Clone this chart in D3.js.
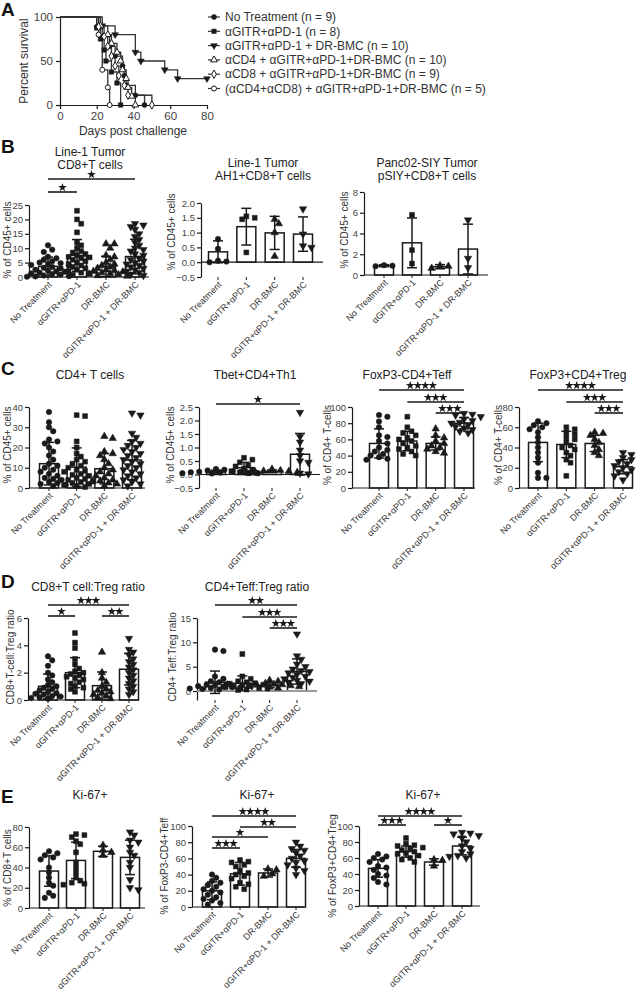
<!DOCTYPE html>
<html><head><meta charset="utf-8">
<script src="https://cdn.jsdelivr.net/npm/d3@7"></script>
<style>body{margin:0;background:#fff} svg{display:block} text{font-family:Arial,"Liberation Sans",sans-serif}</style>
</head><body><svg id="fig" width="642" height="992"></svg>
<script>
// ---------------- DATA ----------------
const groups = ["No Treatment", "αGITR+αPD-1", "DR-BMC", "αGITR+αPD-1 + DR-BMC"];

// Panel A: survival
const survLabels = ["No Treatment (n = 9)", "αGITR+αPD-1 (n = 8)", "αGITR+αPD-1 + DR-BMC (n = 10)",
  "αCD4 + αGITR+αPD-1+DR-BMC (n = 10)", "αCD8 + αGITR+αPD-1+DR-BMC (n = 9)", "(αCD4+αCD8) + αGITR+αPD-1+DR-BMC (n = 5)"];
const survDays = [
  [20, 23, 27, 30, 34, 35, 36, 41, 46],
  [20, 22, 24, 25, 28, 31, 33],
  [23, 30, 41, 44, 57, 64],
  [22, 26, 28, 31, 33, 34, 36, 37, 39, 41],
  [21, 24, 26, 28, 30, 32, 35, 37, 50],
  [21, 23, 26, 27]];
const survPct = [
  [88.9, 77.8, 66.7, 55.6, 44.4, 33.3, 22.2, 11.1, 0],
  [87.5, 75, 62.5, 50, 37.5, 25, 0],
  [90, 80, 60, 50, 40, 30],
  [90, 80, 70, 60, 50, 40, 30, 20, 10, 0],
  [88.9, 77.8, 66.7, 55.6, 44.4, 33.3, 22.2, 11.1, 0],
  [80, 40, 20, 0]];
const survEnd = [46, 33, 80, 41, 50, 27];
const survXTicks = [0, 20, 40, 60, 80];
const survYTicks = [0, 50, 100];

// Panel B
const b1Means = [3.7, 7.5, 3.7, 7.1], b1SDs = [3.2, 5.5, 3.5, 6.0];
const b1Points = [
  [11, 9.5, 8.7, 7, 6.5, 6, 5.5, 5, 4.8, 4.5, 4.2, 4, 3.5, 3.2, 3, 2.5, 2.2, 2, 1.8, 1.5, 1.2, 1, 0.8, 0.5, 0.3, 0.2, 0.1],
  [23, 20, 18.5, 15.5, 12, 11, 10, 9, 8.5, 8, 7.5, 7, 6.8, 6.5, 6, 5.5, 5, 4.5, 4, 3.5, 3, 2.5, 2, 1.5, 1.2, 0.8],
  [11.5, 11.5, 10, 7.5, 7, 6, 5, 4.5, 4, 3.5, 3, 2.5, 2.2, 2, 1.8, 1.5, 1.2, 1, 0.8, 0.5, 0.3],
  [18.5, 18, 17.5, 16.5, 15, 14, 13, 12, 11, 10, 9.5, 9, 8, 7.5, 6.5, 6, 5.5, 5, 4.5, 4, 3.5, 3, 2.5, 2, 1.5, 1, 0.5]];
const b1Sig = [[0, 3, 1], [0, 1, 1]];

const b2Means = [0.35, 1.2, 0.99, 0.95], b2SDs = [0.37, 0.62, 0.56, 0.58];
const b2Points = [[0.78, 0.45, 0.05, 0.0, 0.02], [1.55, 1.5, 1.45, 0.33], [1.45, 1.3, 1.0, 0.2], [1.8, 0.95, 0.55, 0.5]];

const b3Means = [0.9, 3.1, 0.8, 2.5], b3SDs = [0.1, 2.4, 0.2, 2.4];
const b3Points = [[0.95, 0.9, 0.85], [5.8, 2.4, 1.1], [0.9, 0.85, 0.65], [5.3, 1.6, 0.7]];

// Panel C
const c1Means = [12, 10.3, 9.5, 13.8], c1SDs = [10.5, 9.5, 7.5, 9.7];
const c1Points = [
  [37.5, 32.5, 30, 28, 24, 23, 22, 20, 18, 16, 14, 12, 11, 10, 9, 8, 7, 6, 5, 4.5, 4, 3, 2.5, 2, 1.5, 1],
  [36, 35.5, 23, 20, 17, 15.5, 14, 13, 12, 11, 10, 9, 8.5, 8, 7, 6.5, 6, 5, 4.5, 4, 3.5, 3, 2.5, 2, 1.5, 1, 0.5],
  [25.5, 24.5, 18, 17, 16, 14, 12, 10, 9, 8, 7, 6, 5, 4, 3.5, 3, 2.5, 2, 1],
  [37, 36, 27, 25, 23, 22, 21, 20, 19, 18, 17, 16, 15, 14, 13, 12, 11, 10, 9, 8, 7, 6, 5, 4, 3, 2, 1]];

const c2Means = [0.1, 0.25, 0.12, 0.75], c2SDs = [0.06, 0.2, 0.05, 0.77];
const c2Points = [
  [0.2, 0.18, 0.15, 0.12, 0.1, 0.1, 0.08, 0.07, 0.06, 0.05, 0.05, 0.04],
  [0.62, 0.55, 0.45, 0.35, 0.3, 0.22, 0.18, 0.12, 0.08, 0.05, 0.05],
  [0.2, 0.15, 0.13, 0.12, 0.1, 0.08, 0.06],
  [2.3, 1.4, 1.2, 0.9, 0.7, 0.5, 0.45, 0.05, 0.02]];
const c2Sig = [[0, 3, 1]];

const c3Means = [55, 58, 55, 80], c3SDs = [18, 12, 8, 7];
const c3Points = [
  [90, 88, 82, 75, 65, 63, 58, 55, 50, 47, 45, 42, 40, 38, 36, 35],
  [88, 75, 70, 68, 65, 62, 60, 58, 55, 52, 50, 48, 45, 42, 40],
  [73, 65, 62, 58, 55, 52, 50, 48, 45, 43],
  [92, 91, 90, 88, 85, 83, 81, 80, 78, 76, 74, 72, 70, 68]];
const c3Sig = [[0, 3, 4], [1, 3, 3], [2, 3, 3]];

const c4Means = [45, 43, 44, 21], c4SDs = [19, 13, 8, 7];
const c4Points = [
  [66, 64, 62, 60, 58, 55, 50, 45, 40, 35, 30, 25, 15, 10, 10],
  [60, 58, 55, 53, 50, 48, 45, 42, 40, 38, 35, 32, 28, 25, 12],
  [55, 54, 52, 48, 45, 42, 38, 35, 32],
  [35, 33, 30, 28, 26, 24, 22, 20, 18, 16, 14, 12, 8]];
const c4Sig = [[0, 3, 4], [1, 3, 3], [2, 3, 3]];

// Panel D
const d1Means = [1.0, 2.0, 1.05, 2.25], d1SDs = [0.9, 1.1, 1.0, 1.15];
const d1Points = [
  [3.2, 2.9, 2.5, 2.0, 1.8, 1.5, 1.3, 1.1, 1.0, 0.9, 0.8, 0.7, 0.6, 0.5, 0.45, 0.4, 0.3, 0.25, 0.2, 0.15, 0.1],
  [4.9, 4.2, 3.8, 3.0, 2.6, 2.3, 2.1, 2.0, 1.9, 1.8, 1.7, 1.6, 1.5, 1.3, 1.2, 1.0, 0.9, 0.8, 0.6],
  [3.5, 2.0, 1.6, 1.3, 1.0, 0.8, 0.7, 0.6, 0.5, 0.4, 0.3, 0.2, 0.1],
  [4.5, 3.7, 3.5, 3.3, 3.0, 2.8, 2.6, 2.4, 2.2, 2.0, 1.8, 1.6, 1.4, 1.2, 1.0, 0.8, 0.6, 0.4]];
const d1Sig = [[0, 3, 3], [0, 1, 1], [2, 3, 2]];

const d2Means = [1.8, 1.6, 1.2, 4.0], d2SDs = [2.3, 1.5, 0.5, 2.6];
const d2Points = [
  [8.5, 8.2, 3.0, 2.5, 2.0, 1.8, 1.5, 1.3, 1.2, 1.0, 0.9, 0.8, 0.7, 0.6, 0.5, 0.4, 0.3],
  [7.6, 3.0, 2.5, 2.0, 1.8, 1.6, 1.5, 1.3, 1.2, 1.0, 0.9, 0.8, 0.6, 0.5, 0.3, 0.2],
  [2.2, 2.0, 1.6, 1.4, 1.3, 1.2, 1.1, 1.0, 0.9, 0.8, 0.6],
  [11.7, 7.2, 6.5, 5.5, 5.0, 4.5, 4.2, 4.0, 3.7, 3.4, 3.0, 2.8, 2.5, 2.2, 2.0, 1.8, 1.5]];
const d2Sig = [[0, 3, 2], [1, 3, 3], [2, 3, 3]];

// Panel E
const e1Means = [36.5, 47, 56, 50], e1SDs = [15, 18, 5, 17];
const e1Points = [
  [56, 54, 52, 50, 48, 40, 35, 30, 25, 22, 15, 12, 10],
  [73, 72, 70, 66, 63, 55, 45, 40, 35, 30, 27, 25, 24, 23],
  [62, 57, 55, 52],
  [75, 72, 67, 65, 60, 55, 52, 45, 40, 28, 20, 18]];

const e2Means = [20, 41, 42, 60], e2SDs = [11, 14, 5, 11];
const e2Points = [
  [40, 36, 32, 30, 27, 25, 22, 20, 18, 15, 12, 10, 8, 5, 3],
  [58, 56, 55, 52, 50, 45, 42, 40, 38, 35, 30, 28, 25, 22],
  [47, 46, 41, 38],
  [80, 75, 72, 70, 67, 63, 60, 57, 55, 52, 48, 45, 40]];
const e2Sig = [[0, 3, 4], [1, 3, 2], [0, 2, 1], [0, 1, 3]];

const e3Means = [47, 68, 55, 75], e3SDs = [11, 7, 4, 11];
const e3Points = [
  [65, 62, 60, 58, 55, 50, 48, 45, 40, 38, 35, 30, 27],
  [85, 78, 76, 75, 73, 72, 70, 68, 66, 65, 63, 60, 58, 55],
  [58, 57, 50],
  [92, 91, 90, 88, 85, 80, 75, 72, 68, 65, 63, 62, 60]];
const e3Sig = [[0, 3, 4], [0, 1, 3], [2, 3, 1]];

// ---------------- DRAWING ----------------
const svg = d3.select("#fig");
const INK = "#1a1a1a", TXT = "#333";
const groupShapes = ["circle", "square", "triangle", "tridown"];

function marker(g, kind, x, y, size, filled) {
  const types = {circle: d3.symbolCircle, square: d3.symbolSquare, triangle: d3.symbolTriangle,
    tridown: d3.symbolTriangle, diamond: d3.symbolDiamond};
  const rot = kind === "tridown" ? 180 : 0;
  g.append("path").attr("d", d3.symbol().type(types[kind]).size(size)())
    .attr("transform", `translate(${x},${y}) rotate(${rot})`)
    .attr("fill", filled ? INK : "#fff").attr("stroke", INK).attr("stroke-width", filled ? 0.5 : 1);
}

function styleAxis(a, fs) {
  a.select(".domain").attr("stroke", INK).attr("stroke-width", 1.2);
  a.selectAll(".tick line").attr("stroke", INK).attr("stroke-width", 1.2);
  a.selectAll(".tick text").attr("fill", "#444").style("font-size", fs + "px")
    .style("font-family", 'Arial,"Liberation Sans",sans-serif');
}

function swarm(vals, y, cx, step, minD) {
  const placed = [];
  vals.slice().sort((a, b) => b - a).forEach(v => {
    const py = y(v);
    for (let k = 0; k < 60; k++) {
      const off = (k === 0 ? 0 : (k % 2 ? 1 : -1) * Math.ceil(k / 2) * step);
      const px = cx + off;
      if (placed.every(p => (p.x - px) ** 2 + (p.y - py) ** 2 >= minD * minD)) { placed.push({x: px, y: py}); break; }
    }
  });
  return placed;
}

function panelLetter(t, x, y) {
  svg.append("text").attr("x", x).attr("y", y).text(t).attr("font-size", 19).attr("font-weight", "bold").attr("fill", "#111");
}

function stars(g, cx, ly, n) {
  const sp = 7.5;
  for (let k = 0; k < n; k++) {
    const sx = cx + (k - (n - 1) / 2) * sp;
    g.append("path").attr("d", d3.symbol().type(d3.symbolStar).size(24)())
      .attr("transform", `translate(${sx},${ly - 4.5})`).attr("fill", INK);
  }
}

function barChart(cfg, means, sds, points, sig) {
  const g = svg.append("g");
  const y = d3.scaleLinear().domain(cfg.domain).range([cfg.bottom, cfg.top]);
  const x = d3.scalePoint().domain(groups).range([cfg.c0, cfg.c3]);
  const fmt = cfg.fmt || d3.format("d");
  const ax = g.append("g").attr("transform", `translate(${cfg.axis},0)`)
    .call(d3.axisLeft(y).tickValues(cfg.ticks).tickSize(4).tickPadding(2).tickSizeOuter(0).tickFormat(fmt));
  styleAxis(ax, 9.5);
  const base = cfg.domain[0] < 0 ? 0 : cfg.domain[0];
  const bw = 19;
  groups.forEach((name, i) => {
    const cx = x(name);
    g.append("rect").attr("x", cx - bw / 2).attr("width", bw)
      .attr("y", Math.min(y(means[i]), y(base))).attr("height", Math.abs(y(base) - y(means[i])))
      .attr("fill", "#fff").attr("stroke", INK).attr("stroke-width", 1.5);
  });
  g.append("line").attr("x1", cfg.axis).attr("x2", cfg.end).attr("y1", y(base)).attr("y2", y(base))
    .attr("stroke", cfg.grayZero ? "#9a9a9a" : INK).attr("stroke-width", cfg.grayZero ? 2 : 1.2);
  groups.forEach((name, i) => {
    const cx = x(name);
    const yt = y(means[i] + sds[i]), yb = y(means[i] - sds[i]);
    g.append("line").attr("x1", cx).attr("x2", cx).attr("y1", yt).attr("y2", yb).attr("stroke", INK).attr("stroke-width", 1.5);
    [yt, yb].forEach(yy => g.append("line").attr("x1", cx - 5).attr("x2", cx + 5).attr("y1", yy).attr("y2", yy)
      .attr("stroke", INK).attr("stroke-width", 1.5));
    swarm(points[i], y, cx, 4.2, 5).forEach(p => marker(g, groupShapes[i], p.x, p.y, 24, true));
    g.append("line").attr("x1", cx).attr("x2", cx).attr("y1", cfg.bottom).attr("y2", cfg.bottom + 3).attr("stroke", INK);
    g.append("text").attr("transform", `translate(${cx + 2},${cfg.bottom + 6}) rotate(-45)`)
      .attr("text-anchor", "end").attr("dy", "0.35em").attr("font-size", 9).attr("fill", TXT).text(name);
  });
  (sig || []).forEach((s, k) => {
    const ly = cfg.sigY[k];
    const xa = x(groups[s[0]]), xb = x(groups[s[1]]);
    g.append("line").attr("x1", xa).attr("x2", xb).attr("y1", ly).attr("y2", ly)
      .attr("stroke", INK).attr("stroke-width", 1.6);
    stars(g, (xa + xb) / 2, ly, s[2]);
  });
  cfg.title.forEach((t, k) => g.append("text").attr("x", cfg.tx).attr("y", cfg.ty + k * 13)
    .attr("text-anchor", "middle").attr("font-size", 12).attr("fill", "#222").text(t));
  g.append("text").attr("transform", `translate(${cfg.lx},${cfg.ly}) rotate(-90)`).attr("text-anchor", "middle")
    .attr("dy", "0.35em").attr("font-size", 10).attr("fill", TXT).text(cfg.ylabel);
}

// ---- Panel A ----
(function () {
  const g = svg.append("g");
  const x = d3.scaleLinear().domain([0, 80]).range([60, 207]);
  const y = d3.scaleLinear().domain([0, 100]).range([105, 17]);
  const ax = g.append("g").attr("transform", "translate(0,105)")
    .call(d3.axisBottom(x).tickValues(survXTicks).tickSize(4).tickSizeOuter(0));
  styleAxis(ax, 11.5);
  const ay = g.append("g").attr("transform", "translate(60,0)")
    .call(d3.axisLeft(y).tickValues(survYTicks).tickSize(4).tickSizeOuter(0));
  styleAxis(ay, 11.5);
  const kinds = [["circle", true], ["square", true], ["tridown", true], ["triangle", false], ["diamond", false], ["circle", false]];
  const line = d3.line().x(d => x(d[0])).y(d => y(d[1])).curve(d3.curveStepAfter);
  survDays.forEach((days, i) => {
    const pts = [[0, 100]].concat(days.map((d, j) => [d, survPct[i][j]]));
    const last = survPct[i][survPct[i].length - 1];
    if (last > 0) pts.push([survEnd[i], last]);
    g.append("path").attr("d", line(pts)).attr("fill", "none").attr("stroke", "#333").attr("stroke-width", 1.3);
  });
  survDays.forEach((days, i) => {
    days.forEach((d, j) => marker(g, kinds[i][0], x(d), y(survPct[i][j]), 20, kinds[i][1]));
    const last = survPct[i][survPct[i].length - 1];
    if (last > 0) marker(g, kinds[i][0], x(survEnd[i]), y(last), 20, kinds[i][1]);
  });
  g.append("text").attr("transform", "translate(24,61) rotate(-90)").attr("text-anchor", "middle").attr("dy", "0.35em")
    .attr("font-size", 12).attr("fill", TXT).text("Percent survival");
  g.append("text").attr("x", 133).attr("y", 135).attr("text-anchor", "middle").attr("font-size", 12).attr("fill", TXT).text("Days post challenge");
  survLabels.forEach((t, i) => {
    const ly = 17 + i * 14.3;
    g.append("line").attr("x1", 208).attr("x2", 220).attr("y1", ly).attr("y2", ly).attr("stroke", "#333").attr("stroke-width", 1.2);
    marker(g, kinds[i][0], 214, ly, 20, kinds[i][1]);
    g.append("text").attr("x", 225).attr("y", ly).attr("dy", "0.35em").attr("font-size", 12).attr("fill", TXT).text(t);
  });
})();
panelLetter("A", 1, 16);

// ---- Panel B ----
panelLetter("B", 1, 153);
barChart({axis: 29, end: 149, c0: 48, c3: 135, domain: [0, 25], top: 205, bottom: 277, ticks: [0, 5, 10, 15, 20, 25],
  title: ["Line-1 Tumor", "CD8+T cells"], tx: 90, ty: 156, ylabel: "% of CD45+ cells", lx: 7, ly: 240, sigY: [179, 192]},
  b1Means, b1SDs, b1Points, b1Sig);
barChart({axis: 201, end: 323, c0: 218, c3: 303, domain: [-0.5, 2.0], top: 203, bottom: 277, ticks: [-0.5, 0, 0.5, 1, 1.5, 2],
  fmt: d3.format(".1f"), title: ["Line-1 Tumor", "AH1+CD8+T cells"], tx: 263, ty: 167, ylabel: "% of CD45+ cells", lx: 171, ly: 232},
  b2Means, b2SDs, b2Points, []);
barChart({axis: 364, end: 488, c0: 384, c3: 468, domain: [0, 8], top: 192, bottom: 275, ticks: [0, 2, 4, 6, 8],
  title: ["Panc02-SIY Tumor", "pSIY+CD8+T cells"], tx: 427, ty: 167, ylabel: "% of CD45+ cells", lx: 344, ly: 230},
  b3Means, b3SDs, b3Points, []);

// ---- Panel C ----
panelLetter("C", 1, 375);
barChart({axis: 29, end: 145, c0: 49, c3: 132, domain: [0, 40], top: 407, bottom: 488, ticks: [0, 10, 20, 30, 40],
  title: ["CD4+ T cells"], tx: 90, ty: 379, ylabel: "% of CD45+ cells", lx: 7, ly: 445},
  c1Means, c1SDs, c1Points, []);
barChart({axis: 199, end: 320, c0: 216, c3: 300, domain: [-0.5, 2.5], top: 407, bottom: 488, ticks: [-0.5, 0, 0.5, 1, 1.5, 2, 2.5],
  fmt: d3.format(".1f"), title: ["Tbet+CD4+Th1"], tx: 255, ty: 379, ylabel: "% of CD45+ cells", lx: 170, ly: 445, sigY: [404]},
  c2Means, c2SDs, c2Points, c2Sig);
barChart({axis: 352, end: 475, c0: 379, c3: 464, domain: [0, 100], top: 407, bottom: 488, ticks: [0, 20, 40, 60, 80, 100],
  title: ["FoxP3-CD4+Teff"], tx: 407, ty: 379, ylabel: "% of CD4+ T-cells", lx: 327, ly: 445, sigY: [390, 402, 413]},
  c3Means, c3SDs, c3Points, c3Sig);
barChart({axis: 519, end: 633, c0: 538, c3: 623, domain: [0, 80], top: 407, bottom: 488, ticks: [0, 20, 40, 60, 80],
  title: ["FoxP3+CD4+Treg"], tx: 578, ty: 379, ylabel: "% of CD4+ T-cells", lx: 498, ly: 445, sigY: [390, 402, 413]},
  c4Means, c4SDs, c4Points, c4Sig);

// ---- Panel D ----
panelLetter("D", 1, 588);
barChart({axis: 28, end: 139, c0: 48, c3: 129, domain: [0, 6], top: 618, bottom: 700, ticks: [0, 2, 4, 6],
  title: ["CD8+T cell:Treg ratio"], tx: 88, ty: 591, ylabel: "CD8+T-cell:Treg ratio", lx: 10, ly: 657, sigY: [605, 616, 616]},
  d1Means, d1SDs, d1Points, d1Sig);
barChart({axis: 197, end: 317, c0: 215, c3: 297, domain: [-1.85, 15], top: 618, bottom: 700, ticks: [0, 5, 10, 15], grayZero: true,
  title: ["CD4+Teff:Treg ratio"], tx: 257, ty: 591, ylabel: "CD4+ Teff:Treg ratio", lx: 172, ly: 657, sigY: [605, 617, 628]},
  d2Means, d2SDs, d2Points, d2Sig);

// ---- Panel E ----
panelLetter("E", 1, 803);
barChart({axis: 29, end: 145, c0: 49, c3: 130, domain: [0, 80], top: 827, bottom: 908, ticks: [0, 20, 40, 60, 80],
  title: ["Ki-67+"], tx: 90, ty: 799, ylabel: "% of CD8+T cells", lx: 7, ly: 868},
  e1Means, e1SDs, e1Points, []);
barChart({axis: 192, end: 304, c0: 212, c3: 296, domain: [0, 100], top: 826, bottom: 907, ticks: [0, 20, 40, 60, 80, 100],
  title: ["Ki-67+"], tx: 257, ty: 799, ylabel: "% of FoxP3-CD4+Teff", lx: 164, ly: 866, sigY: [816, 827, 837, 848]},
  e2Means, e2SDs, e2Points, e2Sig);
barChart({axis: 359, end: 480, c0: 378, c3: 462, domain: [0, 100], top: 826, bottom: 906, ticks: [0, 20, 40, 60, 80, 100],
  title: ["Ki-67+"], tx: 423, ty: 799, ylabel: "% of FoxP3+CD4+Treg", lx: 332, ly: 866, sigY: [816, 825, 825]},
  e3Means, e3SDs, e3Points, e3Sig);
</script></body></html>
